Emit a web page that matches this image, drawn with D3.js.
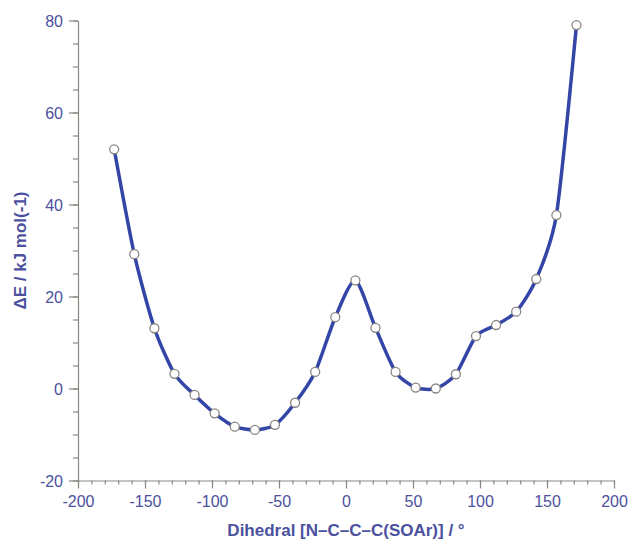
<!DOCTYPE html>
<html>
<head>
<meta charset="utf-8">
<script src="https://cdn.jsdelivr.net/npm/d3@7"></script>
<style>
	body { margin: 0; background: #fff; }
	svg { display: block; }
	.tick text { font-family: "Liberation Sans", Arial, sans-serif; }
</style>
</head>
<body>
<div id="chart"></div>
<script>
// dihedral angles (deg) and relative energies (kJ/mol)
const dihedral = [-173, -158, -143, -128, -113, -98, -83, -68, -53, -38, -23, -8,
	7, 22, 37, 52, 67, 82, 97, 112, 127, 142, 157, 172];
const energy = [52.0, 29.2, 13.1, 3.2, -1.4, -5.4, -8.3, -9.0, -7.9, -3.1, 3.6, 15.5,
	23.5, 13.2, 3.6, 0.2, 0.0, 3.1, 11.4, 13.8, 16.7, 23.8, 37.7, 79.0];

const xTicks = [-200, -150, -100, -50, 0, 50, 100, 150, 200];
const yTicks = [-20, 0, 20, 40, 60, 80];

const width = 633;
const height = 548;
const margin = { top: 20.5, right: 19, bottom: 67.5, left: 78 };

const axisColor = '#8d8782';
const labelColor = '#4b519e';
const lineColor = '#3345a6';

const fmt = (d) => String(d); // plain hyphen, as in the original

const svg = d3.select('#chart')
	.append('svg')
	.attr('width', width)
	.attr('height', height);

const x = d3.scaleLinear()
	.domain([-200, 200])
	.range([margin.left, width - margin.right]);

const y = d3.scaleLinear()
	.domain([-20, 80])
	.range([height - margin.bottom, margin.top]);

// minor ticks first
svg.append('g')
	.attr('transform', `translate(0,${y(-20)})`)
	.call(d3.axisBottom(x).tickValues(d3.range(-200, 201, 10)).tickSize(4).tickFormat(''))
	.call((g) => g.select('.domain').remove());

svg.append('g')
	.attr('transform', `translate(${x(-200)},0)`)
	.call(d3.axisLeft(y).tickValues(d3.range(-20, 81, 5)).tickSize(5).tickFormat(''))
	.call((g) => g.select('.domain').remove());

const xAxis = svg.append('g')
	.attr('transform', `translate(0,${y(-20)})`)
	.call(d3.axisBottom(x).tickValues(xTicks).tickFormat(fmt).tickSize(8).tickPadding(7).tickSizeOuter(0));

const yAxis = svg.append('g')
	.attr('transform', `translate(${x(-200)},0)`)
	.call(d3.axisLeft(y).tickValues(yTicks).tickFormat(fmt).tickSize(9).tickPadding(6).tickSizeOuter(0));

svg.selectAll('.tick line, .domain')
	.attr('stroke', axisColor)
	.attr('stroke-width', 1.2);

svg.selectAll('.tick text')
	.attr('fill', labelColor)
	.attr('font-size', 16);

yAxis.selectAll('.tick text').attr('dy', '0.35em');

// data curve
const line = d3.line()
	.x((d, i) => x(dihedral[i]))
	.y((d) => y(d))
	.curve(d3.curveCardinal.tension(0.3));

svg.append('path')
	.datum(energy)
	.attr('fill', 'none')
	.attr('stroke', lineColor)
	.attr('stroke-width', 3.5)
	.attr('d', line);

svg.append('g')
	.selectAll('circle')
	.data(energy)
	.join('circle')
	.attr('cx', (d, i) => x(dihedral[i]))
	.attr('cy', (d) => y(d))
	.attr('r', 4.5)
	.attr('fill', '#fff')
	.attr('stroke', '#8a8580')
	.attr('stroke-width', 1.3);

// axis titles
svg.append('text')
	.attr('x', (x(-200) + x(200)) / 2)
	.attr('y', 536)
	.attr('text-anchor', 'middle')
	.attr('font-family', '"Liberation Sans", Arial, sans-serif')
	.attr('font-weight', 'bold')
	.attr('font-size', 17)
	.attr('fill', labelColor)
	.text('Dihedral [N\u2013C\u2013C\u2013C(SOAr)] / \u00b0');

svg.append('text')
	.attr('transform', `translate(26,${(y(-20) + y(80)) / 2}) rotate(-90)`)
	.attr('text-anchor', 'middle')
	.attr('font-family', '"Liberation Sans", Arial, sans-serif')
	.attr('font-weight', 'bold')
	.attr('font-size', 17)
	.attr('fill', labelColor)
	.text('\u0394E / kJ mol(-1)');
</script>
</body>
</html>
